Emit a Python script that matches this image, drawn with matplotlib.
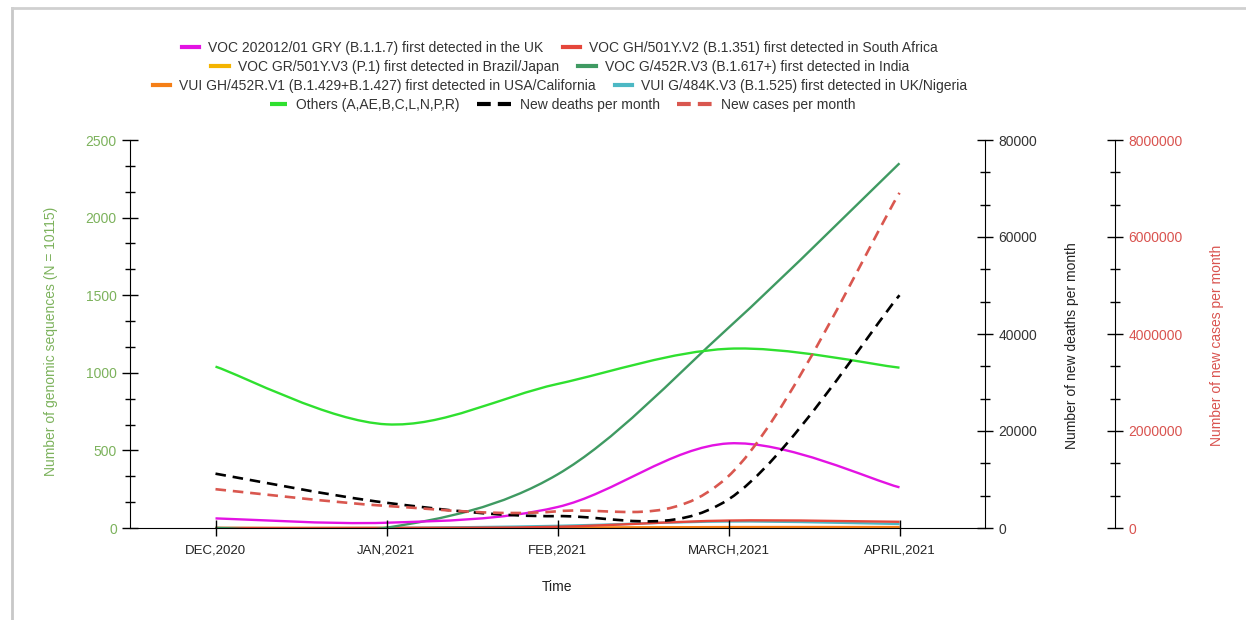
import numpy as np
import matplotlib
matplotlib.use('Agg')
import matplotlib.pyplot as plt
from matplotlib.path import Path
from matplotlib.patches import PathPatch
from matplotlib.lines import Line2D
from matplotlib.ticker import MultipleLocator, FuncFormatter
from matplotlib.legend_handler import HandlerBase

plt.rcParams['font.family'] = ['Liberation Sans', 'DejaVu Sans']

### DATA ###
months = ["DEC,2020", "JAN,2021", "FEB,2021", "MARCH,2021", "APRIL,2021"]

uk_b117 = [62, 34, 135, 545, 262]
sa_b1351 = [0, 0, 8, 48, 40]
brazil_p1 = [0, 0, 1, 3, 4]
india_b1617 = [0, 2, 345, 1290, 2350]
usa_b1429 = [0, 0, 2, 6, 6]
nigeria_b1525 = [0, 0, 14, 42, 26]
others = [1040, 668, 928, 1155, 1033]

new_deaths = [11200, 5200, 2450, 5900, 48000]
new_cases = [800000, 455000, 345000, 1070000, 6910000]

variant_labels = [
    "VOC 202012/01 GRY (B.1.1.7) first detected in the UK",
    "VOC GH/501Y.V2 (B.1.351) first detected in South Africa",
    "VOC GR/501Y.V3 (P.1) first detected in Brazil/Japan",
    "VOC G/452R.V3 (B.1.617+) first detected in India",
    "VUI GH/452R.V1 (B.1.429+B.1.427) first detected in USA/California",
    "VUI G/484K.V3 (B.1.525) first detected in UK/Nigeria",
    "Others (A,AE,B,C,L,N,P,R)",
]
deaths_label = "New deaths per month"
cases_label = "New cases per month"

variant_colors = ["#e313e3", "#e5463b", "#f4b400", "#3f9a62", "#f57f17", "#4cb8c4", "#2fe02f"]
green_txt = "#7cb25c"
red_txt = "#d9534f"
cases_color = "#d9574f"
text_color = "#333333"


def smooth_path(xs, ys):
    # cardinal spline (like the d3 curve) drawn as cubic bezier segments
    xs = np.asarray(xs, float)
    ys = np.asarray(ys, float)
    px = np.concatenate([[xs[0]], xs, [xs[-1]]])
    py = np.concatenate([[ys[0]], ys, [ys[-1]]])
    verts = [(xs[0], ys[0])]
    codes = [Path.MOVETO]
    for i in range(1, len(xs)):
        c1 = (px[i] + (px[i + 1] - px[i - 1]) / 6, py[i] + (py[i + 1] - py[i - 1]) / 6)
        c2 = (px[i + 1] - (px[i + 2] - px[i]) / 6, py[i + 1] - (py[i + 2] - py[i]) / 6)
        verts += [c1, c2, (px[i + 1], py[i + 1])]
        codes += [Path.CURVE4] * 3
    return Path(verts, codes)


class ShortHandle(HandlerBase):
    # solid swatch at half the handle width, pushed against the text
    def create_artists(self, legend, orig_handle, xdescent, ydescent, width, height, fontsize, trans):
        y = height / 2 - ydescent
        x1 = width - xdescent
        ln = Line2D([x1 - width * 0.5, x1], [y, y], color=orig_handle.get_color(),
                    lw=orig_handle.get_linewidth(), solid_capstyle='butt')
        ln.set_transform(trans)
        return [ln]


### FIGURE ###
fig = plt.figure(figsize=(12.46, 6.2), dpi=100)
ax = fig.add_axes([130 / 1246, 1 - 528 / 620, 855 / 1246, 388 / 620])
ax2 = ax.twinx()
ax3 = ax.twinx()

x = np.arange(len(months))
variant_series = [uk_b117, sa_b1351, brazil_p1, india_b1617, usa_b1429, nigeria_b1525, others]
draw_order = [2, 4, 5, 1, 3, 0, 6]
for i in draw_order:
    ax.add_patch(PathPatch(smooth_path(x, variant_series[i]), fill=False,
                           edgecolor=variant_colors[i], lw=1.7))

ax2.add_patch(PathPatch(smooth_path(x, new_deaths), fill=False, edgecolor="black",
                        lw=1.9, linestyle=(0, (4, 2.6))))
ax3.add_patch(PathPatch(smooth_path(x, new_cases), fill=False, edgecolor=cases_color,
                        lw=1.9, linestyle=(0, (4, 2.6))))

for a in (ax, ax2, ax3):
    a.set_xlim(-0.5, len(months) - 0.5)
ax.set_ylim(0, 2500)
ax2.set_ylim(0, 80000)
ax3.set_ylim(0, 8000000)

### AXES STYLE ###
ax.spines['top'].set_visible(False)
ax.spines['right'].set_visible(False)
for a in (ax2, ax3):
    a.spines['top'].set_visible(False)
    a.spines['left'].set_visible(False)
    a.spines['bottom'].set_visible(False)
ax3.spines['right'].set_position(('axes', (1115 - 130) / 855))

ax.set_xticks(x)
ax.set_xticklabels(months, fontsize=9.5, color="#222222")
ax.tick_params(axis='x', direction='inout', length=12, width=1, pad=6)

ax.yaxis.set_major_locator(MultipleLocator(500))
ax.yaxis.set_minor_locator(MultipleLocator(500 / 3))
ax.tick_params(axis='y', which='major', direction='inout', length=11, width=1,
               labelcolor=green_txt, labelsize=10, pad=4)
ax.tick_params(axis='y', which='minor', direction='inout', length=7, width=1)

ax2.yaxis.set_major_locator(MultipleLocator(20000))
ax2.yaxis.set_minor_locator(MultipleLocator(20000 / 3))
ax2.tick_params(axis='y', which='major', direction='inout', length=11, width=1,
                labelcolor=text_color, labelsize=10, pad=4)
ax2.tick_params(axis='y', which='minor', direction='inout', length=7, width=1)

ax3.yaxis.set_major_locator(MultipleLocator(2000000))
ax3.yaxis.set_minor_locator(MultipleLocator(2000000 / 3))
ax3.yaxis.set_major_formatter(FuncFormatter(lambda v, p: "%d" % v))
ax3.tick_params(axis='y', which='major', direction='inout', length=11, width=1,
                labelcolor=red_txt, labelsize=10, pad=4)
ax3.tick_params(axis='y', which='minor', direction='inout', length=7, width=1)

ax.set_xlabel("Time", fontsize=10, color="#222222")
ax.xaxis.set_label_coords(0.5, -0.135)
ax.set_ylabel("Number of genomic sequences (N = 10115)", fontsize=10, color=green_txt)
ax.yaxis.set_label_coords(-0.084, 0.48)
ax2.set_ylabel("Number of new deaths per month", fontsize=10, color="#222222")
ax2.yaxis.set_label_coords((1065 - 130) / 855, 0.47)
ax3.set_ylabel("Number of new cases per month", fontsize=10, color=red_txt)
ax3.yaxis.set_label_coords((1210 - 130) / 855, 0.47)

### LEGEND (4 centred rows) ###
handles = [Line2D([], [], color=c, lw=3) for c in variant_colors]
handles.append(Line2D([], [], color="black", lw=3, dashes=(3.3, 1.7)))
handles.append(Line2D([], [], color=cases_color, lw=3, dashes=(3.3, 1.7)))
labels = variant_labels + [deaths_label, cases_label]
rows = [[0, 1], [2, 3], [4, 5], [6, 7, 8]]
row_y = [48, 67, 86, 105]
for r, yy in zip(rows, row_y):
    last = (r == rows[-1])
    fig.legend([handles[i] for i in r], [labels[i] for i in r], loc='center',
               bbox_to_anchor=((560 - (6 if last else 0)) / 1246, 1 - yy / 620),
               ncol=len(r), frameon=False, fontsize=10,
               handlelength=2.5 if last else 1.25, handletextpad=0.65,
               columnspacing=1.2 if last else 1.4, borderaxespad=0, borderpad=0,
               labelcolor=text_color,
               handler_map={handles[6]: ShortHandle()})

### SCREENSHOT FRAME ###
fig.add_artist(Line2D([12 / 1246, 12 / 1246], [0, 1 - 8 / 620], color="#c8c8c8", lw=2))
fig.add_artist(Line2D([12 / 1246, 1], [1 - 8 / 620, 1 - 8 / 620], color="#d0d0d0", lw=2))

fig.savefig("out.png", dpi=100)
